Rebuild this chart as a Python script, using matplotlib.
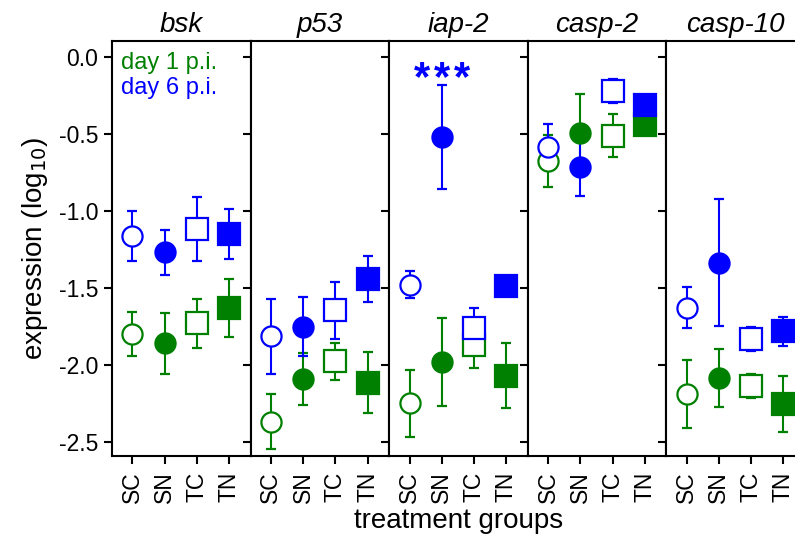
import numpy as np
import matplotlib.pyplot as plt

plt.rcParams['font.family'] = ['Liberation Sans', 'DejaVu Sans']
plt.rcParams['axes.unicode_minus'] = False

genes = ['bsk', 'p53', 'iap-2', 'casp-2', 'casp-10']
groups = ['SC', 'SN', 'TC', 'TN']
markers = ['o', 'o', 's', 's']
filled = [False, True, False, True]

# mean and error per gene (rows) and group (columns)
day1_mean = [[-1.80, -1.86, -1.73, -1.63],
             [-2.37, -2.09, -1.975, -2.115],
             [-2.25, -1.98, -1.87, -2.07],
             [-0.675, -0.49, -0.51, -0.44],
             [-2.19, -2.085, -2.135, -2.255]]
day1_err = [[0.142, 0.197, 0.16, 0.19],
            [0.178, 0.17, 0.12, 0.196],
            [0.218, 0.286, 0.147, 0.21],
            [0.17, 0.25, 0.14, 0.02],
            [0.22, 0.19, 0.078, 0.18]]
day6_mean = [[-1.162, -1.268, -1.116, -1.149],
             [-1.814, -1.751, -1.645, -1.444],
             [-1.478, -0.516, -1.762, -1.489],
             [-0.581, -0.711, -0.219, -0.308],
             [-1.628, -1.335, -1.834, -1.782]]
day6_err = [[0.16, 0.147, 0.21, 0.163],
            [0.245, 0.19, 0.185, 0.15],
            [0.087, 0.337, 0.13, 0.02],
            [0.146, 0.19, 0.078, 0.02],
            [0.133, 0.415, 0.078, 0.092]]

series = [('day 1 p.i.', '#008000', day1_mean, day1_err),
          ('day 6 p.i.', '#0000ff', day6_mean, day6_err)]

sig_gene = 'iap-2'
sig_group = 'SN'
sig_y = -0.21
sig_stars = 3

W, H = 795, 537
fig = plt.figure(figsize=(W / 100, H / 100), dpi=100)

left, bottom, top = 112, 456, 41.3
pw = 138.6
yt = [0.0, -0.5, -1.0, -1.5, -2.0, -2.5]
x = np.arange(len(groups))

axes = []
for i, gene in enumerate(genes):
    ax = fig.add_axes([(left + i * pw) / W, 1 - bottom / H,
                       pw / W, (bottom - top) / H])
    axes.append(ax)
    for label, col, means, errs in series:
        for j in range(len(groups)):
            ms = 14.5 if markers[j] == 'o' else 15.3
            ax.errorbar(x[j], means[i][j], yerr=errs[i][j],
                        fmt=markers[j], ms=ms, mew=1.6,
                        mec=col, mfc=col if filled[j] else 'white',
                        ecolor=col, elinewidth=1.5,
                        capsize=3.9, capthick=1.5)
    if gene == sig_gene:
        # one asterisk per star, spread around the group position
        for k in range(sig_stars):
            ax.annotate('*', (groups.index(sig_group), sig_y),
                        xytext=((k - 1) * 14.5, 0), textcoords='offset points',
                        color='#0000ff', fontsize=30, fontweight='bold',
                        ha='center', va='baseline')
    ax.set_xlim(-0.63, 3.67)
    ax.set_ylim(-2.592, 0.104)
    ax.set_xticks(x)
    ax.set_xticklabels(groups, rotation=90, fontsize=16.5)
    ax.set_yticks(yt)
    if i == 0:
        ax.set_yticklabels([f"{v:.1f}" for v in yt], fontsize=16.5)
        ax.set_ylabel('expression (log$_{10}$)', fontsize=20, labelpad=6)
    else:
        ax.set_yticklabels([])
    ax.tick_params(axis='both', direction='out', length=6, width=1.5, pad=4)
    ax.tick_params(axis='x', pad=5)
    for s in ax.spines.values():
        s.set_linewidth(1.5)
    ax.set_title(gene, fontsize=20, style='italic', pad=7)

axes[0].text(0.065, 0.975, 'day 1 p.i.', color='#008000', fontsize=17,
             transform=axes[0].transAxes, ha='left', va='top')
axes[0].text(0.065, 0.913, 'day 6 p.i.', color='#0000ff', fontsize=17,
             transform=axes[0].transAxes, ha='left', va='top')

fig.text((left + 2.5 * pw) / W, 1 - 528 / H, 'treatment groups',
         fontsize=20, ha='center', va='baseline')

fig.savefig('out.png', dpi=100)
